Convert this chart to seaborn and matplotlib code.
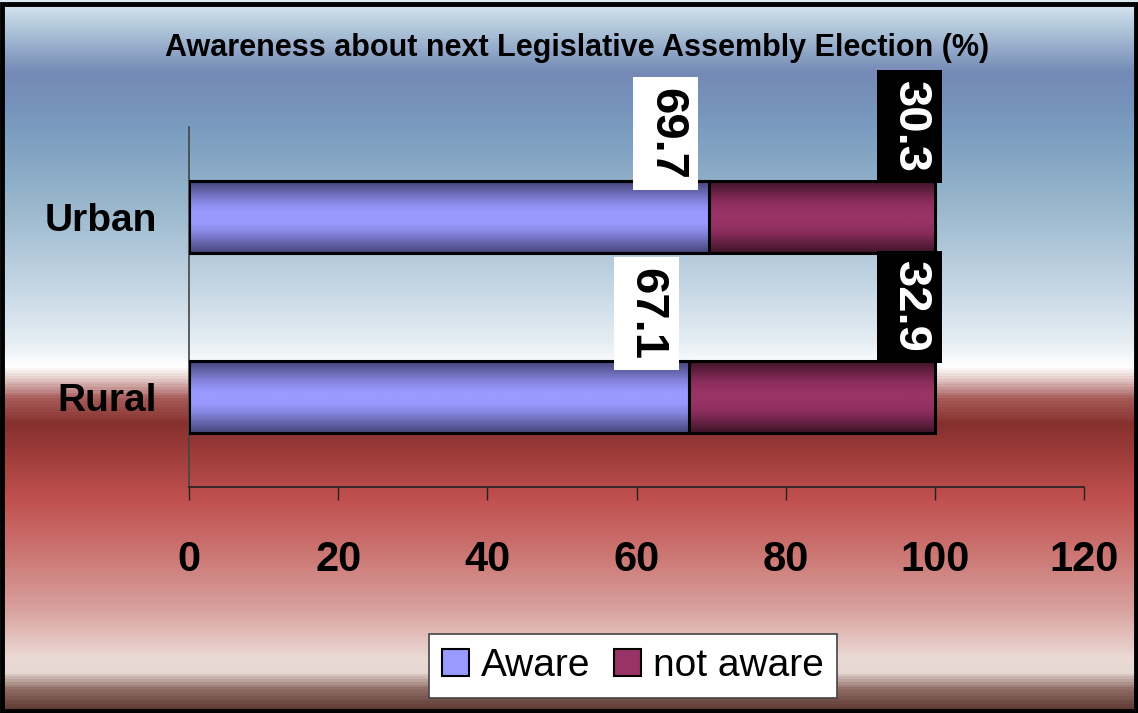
import numpy as np
import pandas as pd
import seaborn as sns
import matplotlib.pyplot as plt
from matplotlib.colors import LinearSegmentedColormap
from matplotlib.patches import Rectangle, Patch

# chart values
areas = ["Urban", "Rural"]
aware = [69.7, 67.1]
not_aware = [30.3, 32.9]
x_ticks = [0, 20, 40, 60, 80, 100, 120]

df = pd.DataFrame({"area": areas, "aware": aware, "not_aware": not_aware})
df["total"] = df["aware"] + df["not_aware"]

sns.set_theme(style="white")
plt.rcParams["font.family"] = ["Liberation Sans", "DejaVu Sans"]
plt.rcParams["text.color"] = "black"
plt.rcParams["xtick.color"] = "black"
plt.rcParams["ytick.color"] = "black"

fig = plt.figure(figsize=(11.38, 7.13), dpi=100)

# background gradient over the whole figure
bg = fig.add_axes([0, 0, 1, 1], zorder=-10)
stops = [
    (0.0, "#dbe8f2"), (0.04, "#aec4d9"), (0.10, "#7489b5"), (0.18, "#7a9cc0"),
    (0.28, "#97b5cb"), (0.39, "#c0d3e2"), (0.48, "#e6eef4"), (0.515, "#ffffff"),
    (0.53, "#e6d0ce"), (0.56, "#a55a58"), (0.595, "#86302d"), (0.70, "#c0504f"),
    (0.78, "#cc7773"), (0.86, "#d9a3a0"), (0.925, "#ebdad5"), (0.945, "#e6d8d2"),
    (0.97, "#8d6a63"), (1.0, "#5a3530"),
]
bg_cmap = LinearSegmentedColormap.from_list("bg", stops)
bg.imshow(np.linspace(0, 1, 713).reshape(-1, 1), cmap=bg_cmap, aspect="auto",
          extent=[0, 1, 1, 0])
bg.set_xlim(0, 1)
bg.set_ylim(1, 0)
bg.axis("off")

ax = fig.add_axes([189 / 1138, 1 - 487 / 713, (1084 - 189) / 1138, 360 / 713])
ax.patch.set_alpha(0)

sns.barplot(data=df, x="total", y="area", color="#993366", width=0.4,
            edgecolor="black", linewidth=2, ax=ax, orient="h")
sns.barplot(data=df, x="aware", y="area", color="#9999ff", width=0.4,
            edgecolor="black", linewidth=2, ax=ax, orient="h")

# shaded (gradient) fill laid over each bar
grad_nw = LinearSegmentedColormap.from_list("nw", [(0, "#3f1428"), (0.28, "#8a2d5c"),
                                                   (0.45, "#993366"), (0.55, "#993366"),
                                                   (0.72, "#8a2d5c"), (1, "#3f1428")])
grad_aw = LinearSegmentedColormap.from_list("aw", [(0, "#45457a"), (0.28, "#8585e0"),
                                                   (0.42, "#9999ff"), (0.58, "#9999ff"),
                                                   (0.72, "#8585e0"), (1, "#45457a")])
patches = list(ax.patches)
n = len(areas)
for k, p in enumerate(patches):
    p.set_zorder(1.5)
    cmap = grad_nw if k < n else grad_aw
    b = p.get_bbox()
    ax.imshow(np.linspace(0, 1, 100).reshape(-1, 1), cmap=cmap, aspect="auto",
              extent=[b.x0, b.x1, b.y1, b.y0], zorder=3 + k * 0.1,
              interpolation="bilinear")
    ax.add_patch(Rectangle((b.x0, b.y0), b.width, b.height, fill=False,
                           ec="black", lw=2.2, zorder=3.05 + k * 0.1))

ax.set_xlim(0, 120)
ax.set_ylim(1.5, -0.5)
ax.set_xticks(x_ticks)
ax.set_xlabel("")
ax.set_ylabel("")
for s in ["top", "right"]:
    ax.spines[s].set_visible(False)
ax.spines["left"].set_color("#444444")
ax.spines["bottom"].set_color("#222222")
ax.spines["left"].set_linewidth(1.2)
ax.spines["bottom"].set_linewidth(1.2)
ax.tick_params(axis="x", direction="out", length=9, width=1, color="#222222",
               pad=29, bottom=True, labelcolor="black")
ax.tick_params(axis="y", length=0, pad=23, labelcolor="black")
for t in ax.get_xticklabels():
    t.set_fontweight("bold")
    t.set_fontsize(30)
for t in ax.get_yticklabels():
    t.set_fontweight("bold")
    t.set_fontsize(28)

# data labels, rotated, boxed
for i in range(n):
    top = i - 0.2
    ax.annotate(f"{aware[i]}", xy=(aware[i], top), xytext=(-31, 34),
                textcoords="offset points", rotation=-90, ha="center", va="center",
                fontsize=34, fontweight="bold", color="black", zorder=6,
                bbox=dict(boxstyle="square,pad=0.22", fc="white", ec="none"))
    ax.annotate(f"{not_aware[i]}", xy=(aware[i] + not_aware[i], top), xytext=(-18, 39),
                textcoords="offset points", rotation=-90, ha="center", va="center",
                fontsize=34, fontweight="bold", color="white", zorder=6,
                bbox=dict(boxstyle="square,pad=0.22", fc="black", ec="none"))

fig.text(577 / 1138, 1 - 48 / 713, "Awareness about next Legislative Assembly Election (%)",
         ha="center", va="center", fontsize=22, fontweight="bold", color="black")

handles = [Patch(facecolor="#9999ff", edgecolor="black", lw=1.5, label="Aware"),
           Patch(facecolor="#993366", edgecolor="black", lw=1.5, label="not aware")]
leg = fig.legend(handles=handles, loc="center", bbox_to_anchor=(633 / 1138, 1 - 666 / 713),
                 ncol=2, fontsize=28, frameon=True, fancybox=False, framealpha=1,
                 edgecolor="#444444", handlelength=0.7, handleheight=0.7,
                 handletextpad=0.3, columnspacing=0.6, borderpad=0.35)
leg.get_frame().set_linewidth(1.2)
for txt in leg.get_texts():
    txt.set_color("black")

fig.add_artist(Rectangle((0.002, 0.003), 0.996, 0.992, transform=fig.transFigure,
                         fill=False, ec="black", lw=3.5))

fig.savefig("out.png", dpi=100)
